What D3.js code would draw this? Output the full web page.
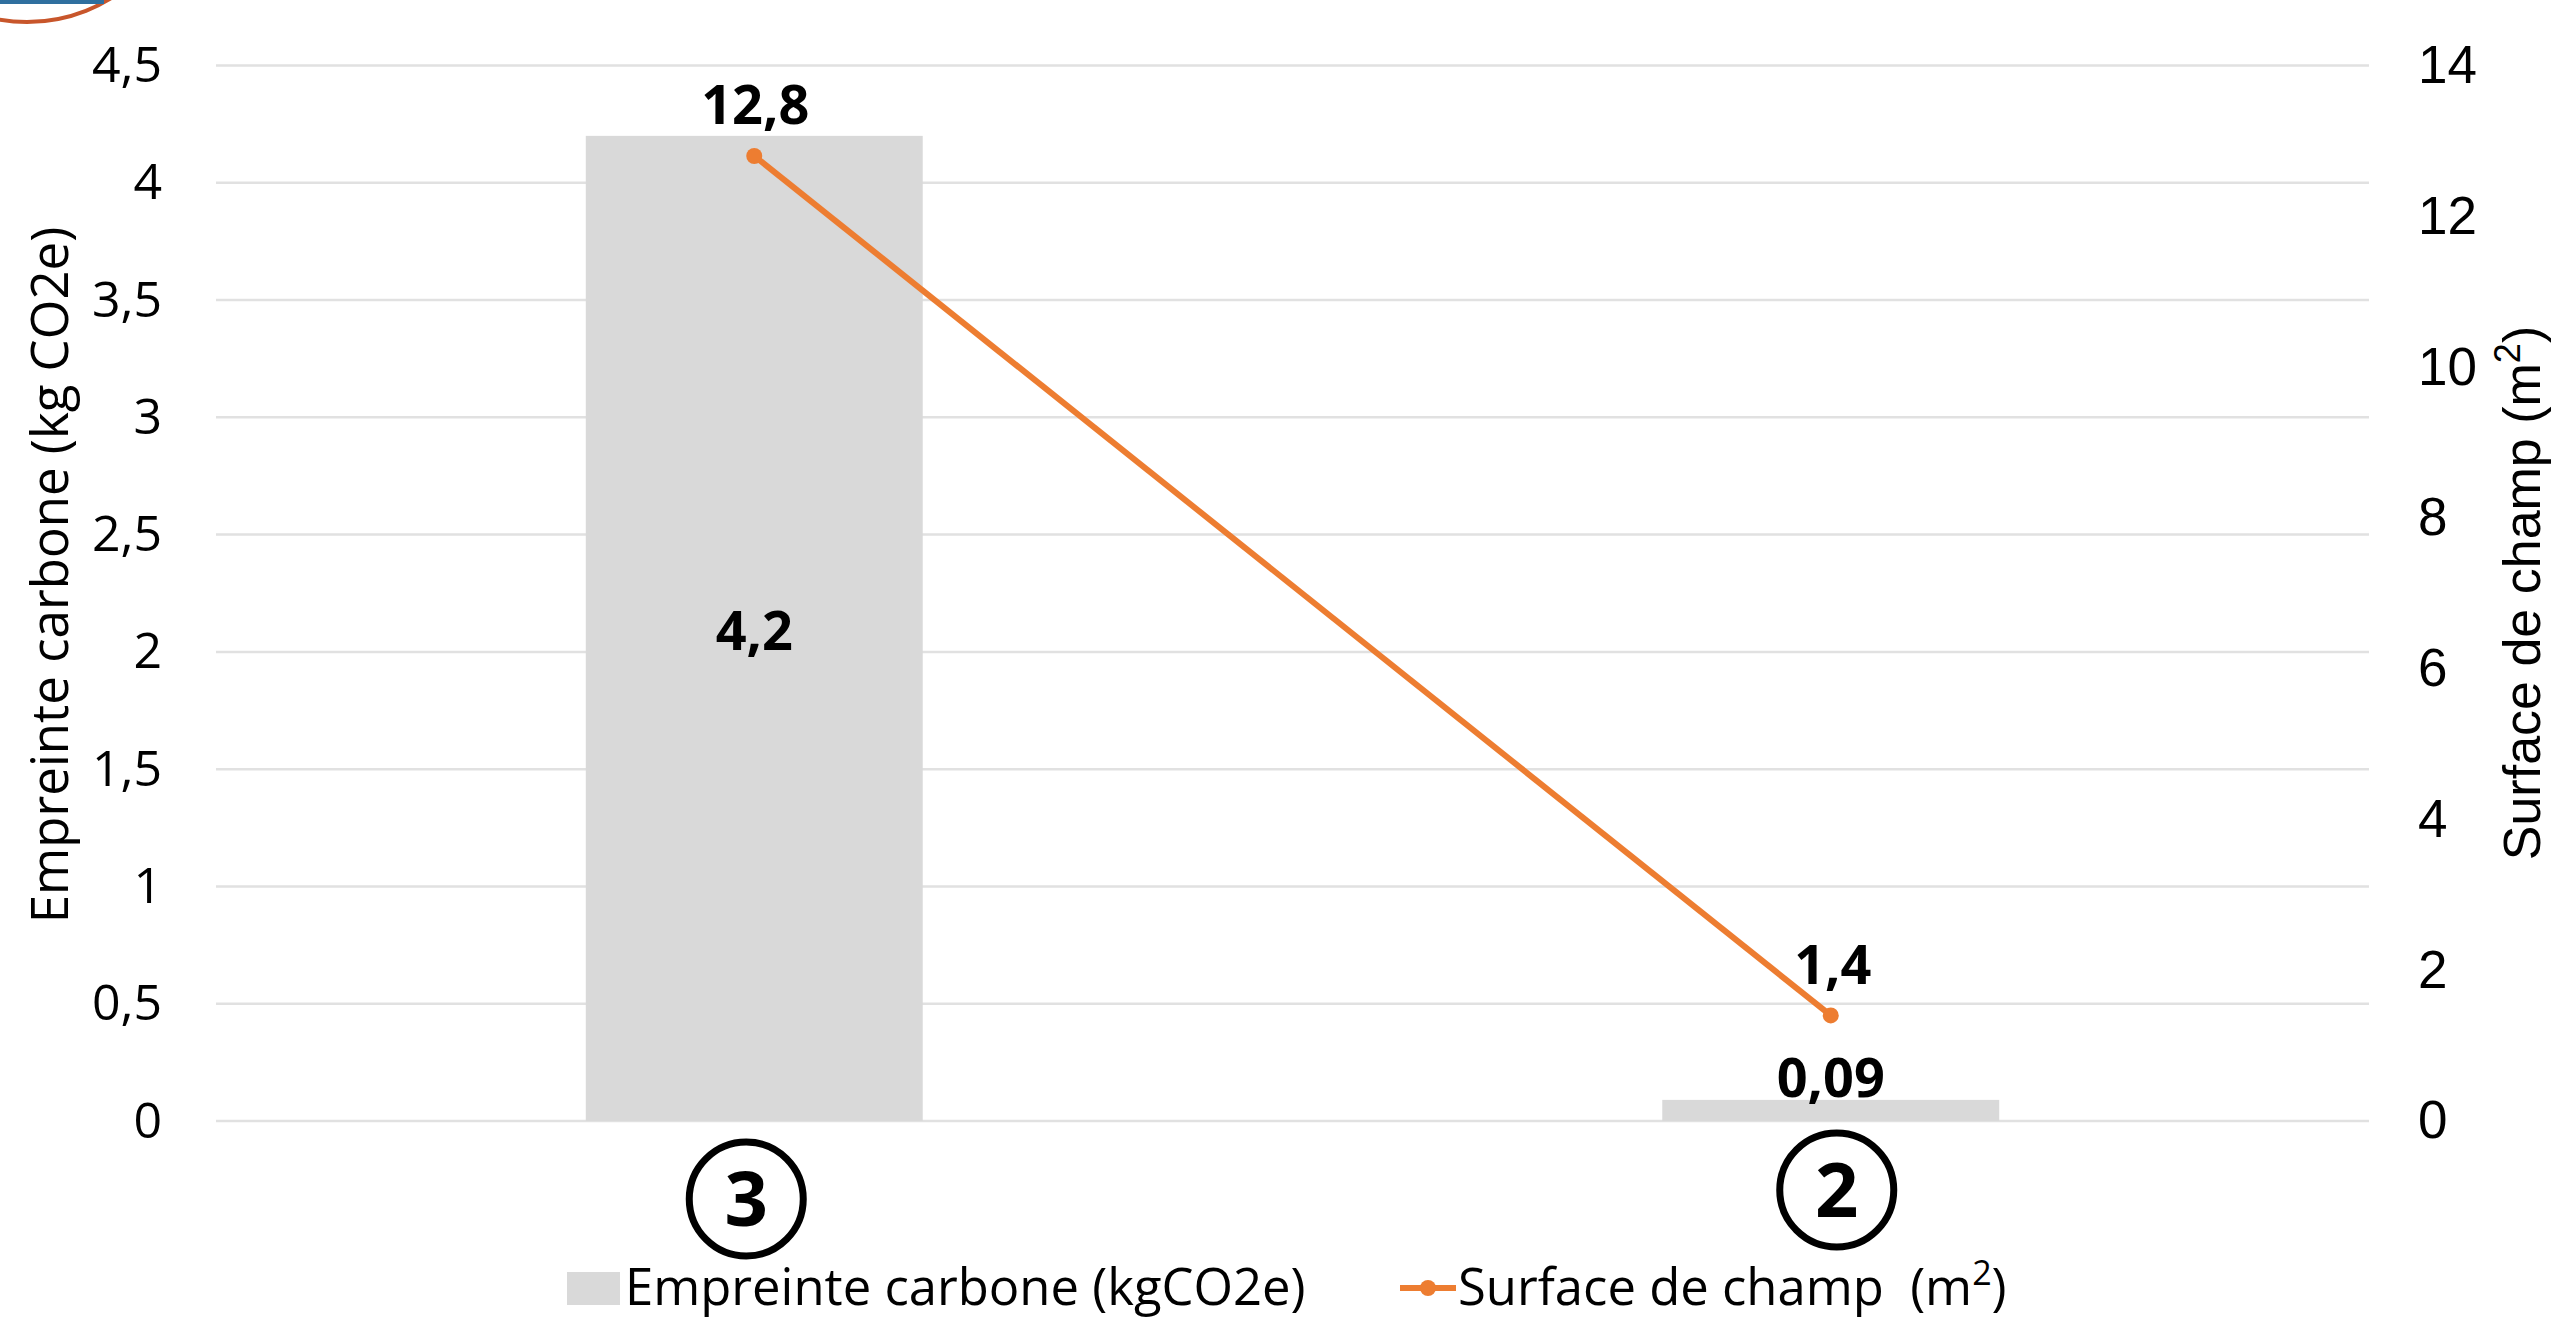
<!DOCTYPE html>
<html>
<head>
<meta charset="utf-8">
<script src="https://cdn.jsdelivr.net/npm/d3@7"></script>
<style>
  html, body { margin: 0; padding: 0; background: #fff; overflow: hidden; }
  text { fill: #000; }
</style>
</head>
<body>
<div id="chart"></div>
<script>
// data
var categories = ["3", "2"];
var carbone = [4.2, 0.09];
var surface = [12.8, 1.4];
var carboneLabels = ["4,2", "0,09"];
var surfaceLabels = ["12,8", "1,4"];
var leftTicks = [0, 0.5, 1, 1.5, 2, 2.5, 3, 3.5, 4, 4.5];
var rightTicks = [0, 2, 4, 6, 8, 10, 12, 14];

// set dimensions
var width = 2559;
var height = 1317;
var plot = {left: 216, right: 2369, top: 65.5, bottom: 1121};

var mainFont = "'Open Sans', sans-serif";
var armFont = "'Liberation Sans', Arial, sans-serif";
var grey = "#d9d9d9";
var orange = "#ed7d31";

var svg = d3.select("#chart")
  .append("svg")
    .attr("width", width)
    .attr("height", height)
    .style("display", "block");

var x = d3.scaleBand().domain(categories).range([plot.left, plot.right])
  .paddingInner(0.687).paddingOuter(0.3435);
var yLeft = d3.scaleLinear().domain([0, 4.5]).range([plot.bottom, plot.top]);
var yRight = d3.scaleLinear().domain([0, 14]).range([plot.bottom, plot.top]);
var cx = function(d) { return x(d) + x.bandwidth() / 2; };

// logo fragment cut off in the top left corner
svg.append("circle")
  .attr("cx", 27).attr("cy", -138).attr("r", 160)
  .attr("fill", "#fff").attr("stroke", "#c8562b").attr("stroke-width", 4);
svg.append("rect")
  .attr("x", 0).attr("y", 0).attr("width", 104).attr("height", 4)
  .attr("fill", "#2f6f9f");

// gridlines
svg.append("g")
  .selectAll("line")
  .data(leftTicks)
  .enter()
  .append("line")
    .attr("x1", plot.left)
    .attr("x2", plot.right)
    .attr("y1", function(d) { return yLeft(d); })
    .attr("y2", function(d) { return yLeft(d); })
    .attr("stroke", "#e1e1e1")
    .attr("stroke-width", 2.5);

// left axis
var leftAxis = svg.append("g")
  .attr("transform", "translate(" + plot.left + ",0)")
  .call(d3.axisLeft(yLeft).tickValues(leftTicks).tickSize(0).tickPadding(54)
    .tickFormat(function(d) { return String(d).replace(".", ","); }));
leftAxis.select(".domain").remove();
leftAxis.selectAll("text")
  .style("font-family", mainFont)
  .style("font-size", "50px")
  .attr("dy", "0.32em");

// right axis
var rightAxis = svg.append("g")
  .attr("transform", "translate(" + plot.right + ",0)")
  .call(d3.axisRight(yRight).tickValues(rightTicks).tickSize(0).tickPadding(49));
rightAxis.select(".domain").remove();
rightAxis.selectAll("text")
  .style("font-family", armFont)
  .style("font-size", "53px")
  .attr("dy", "0.32em");

// bars
svg.append("g")
  .selectAll("rect")
  .data(categories)
  .enter()
  .append("rect")
    .attr("x", function(d) { return x(d); })
    .attr("width", x.bandwidth())
    .attr("y", function(d, i) { return yLeft(carbone[i]); })
    .attr("height", function(d, i) { return plot.bottom - yLeft(carbone[i]); })
    .attr("fill", grey);

// line
var line = d3.line()
  .x(function(d) { return cx(d); })
  .y(function(d, i) { return yRight(surface[i]); });

svg.append("path")
  .datum(categories)
  .attr("d", line)
  .attr("fill", "none")
  .attr("stroke", orange)
  .attr("stroke-width", 6);

svg.append("g")
  .selectAll("circle")
  .data(categories)
  .enter()
  .append("circle")
    .attr("cx", cx)
    .attr("cy", function(d, i) { return yRight(surface[i]); })
    .attr("r", 8)
    .attr("fill", orange);

// data labels
function dataLabel(tx, ty, s) {
  svg.append("text")
    .attr("x", tx)
    .attr("y", ty)
    .attr("text-anchor", "middle")
    .style("font-family", mainFont)
    .style("font-weight", 700)
    .style("font-size", "54px")
    .text(s);
}
dataLabel(cx("3") + 1, yRight(surface[0]) - 32, surfaceLabels[0]);
dataLabel(cx("2") + 2, yRight(surface[1]) - 31, surfaceLabels[1]);
dataLabel(cx("3"), 650, carboneLabels[0]);
dataLabel(cx("2"), yLeft(carbone[1]) - 3, carboneLabels[1]);

// circled category labels
var badges = [[-8, 1199], [6, 1190]];
categories.forEach(function(c, i) {
  var g = svg.append("g")
    .attr("transform", "translate(" + (cx(c) + badges[i][0]) + "," + badges[i][1] + ")");
  g.append("circle")
    .attr("r", 57)
    .attr("fill", "#fff")
    .attr("stroke", "#000")
    .attr("stroke-width", 7);
  g.append("text")
    .attr("text-anchor", "middle")
    .attr("dy", "0.36em")
    .style("font-family", mainFont)
    .style("font-weight", 700)
    .style("font-size", "76px")
    .text(c);
});

// axis titles
svg.append("text")
  .attr("transform", "translate(68,575) rotate(-90)")
  .attr("text-anchor", "middle")
  .style("font-family", mainFont)
  .style("font-size", "51px")
  .text("Empreinte carbone (kg CO2e)");

var rightTitle = svg.append("text")
  .attr("transform", "translate(2540,593) rotate(-90)")
  .attr("text-anchor", "middle")
  .style("font-family", armFont)
  .style("font-size", "52px")
  .text("Surface de champ (m");
rightTitle.append("tspan").attr("dy", -20).style("font-size", "36px").text("2");
rightTitle.append("tspan").attr("dy", 20).text(")");

// legend
svg.append("rect")
  .attr("x", 567).attr("y", 1272).attr("width", 53).attr("height", 33)
  .attr("fill", grey);
svg.append("text")
  .attr("x", 625).attr("y", 1305)
  .style("font-family", mainFont)
  .style("font-size", "50.8px")
  .text("Empreinte carbone (kgCO2e)");

svg.append("line")
  .attr("x1", 1400).attr("x2", 1456).attr("y1", 1288).attr("y2", 1288)
  .attr("stroke", orange).attr("stroke-width", 6);
svg.append("circle")
  .attr("cx", 1428).attr("cy", 1288).attr("r", 8)
  .attr("fill", orange);
var legend2 = svg.append("text")
  .attr("x", 1458).attr("y", 1305)
  .style("white-space", "pre")
  .style("font-family", mainFont)
  .style("font-size", "50.8px")
  .text("Surface de champ  (m");
legend2.append("tspan").attr("dy", -20).style("font-size", "34px").text("2");
legend2.append("tspan").attr("dy", 20).text(")");
</script>
</body>
</html>
